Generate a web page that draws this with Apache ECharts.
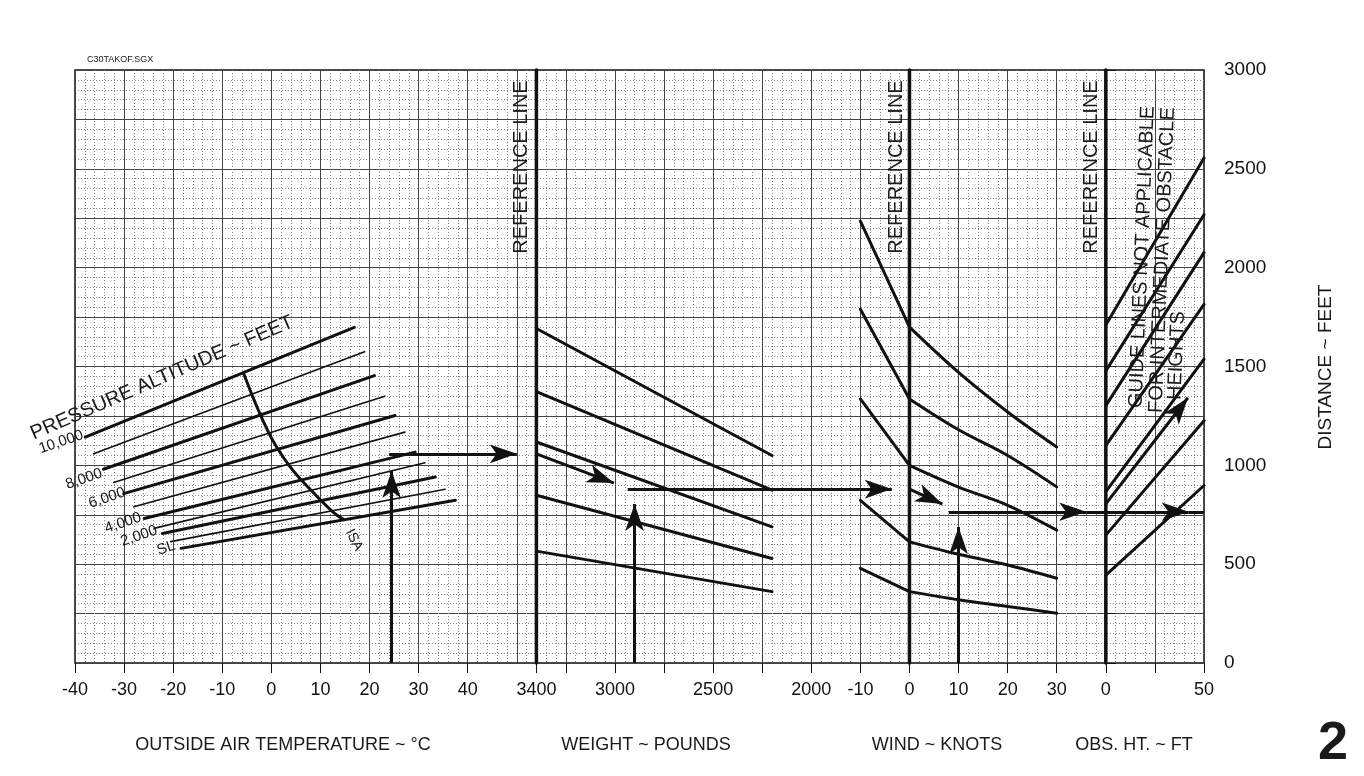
<!DOCTYPE html>
<html>
<head>
<meta charset="utf-8">
<title>Takeoff distance</title>
<script src="https://cdn.jsdelivr.net/npm/echarts@6.0.0/dist/echarts.min.js"></script>
<style>
html, body { margin: 0; padding: 0; background: #fff; }
#main { width: 1364px; height: 776px; }
</style>
</head>
<body>
<div id="main"></div>
<script>
// pressure altitude lines, [OAT degC, distance ft], 10,000 ft down to SL
var altitudeLines = [
    [[-37.9, 1143], [16.9, 1698]],
    [[-36.2, 1059], [19.0, 1575]],
    [[-34.2, 980], [21.0, 1454]],
    [[-32.1, 913], [23.1, 1350]],
    [[-30.1, 857], [25.2, 1252]],
    [[-28.0, 790], [27.2, 1168]],
    [[-25.9, 731], [29.3, 1067]],
    [[-23.9, 681], [31.3, 1013]],
    [[-22.2, 655], [33.4, 941]],
    [[-20.5, 614], [35.4, 879]],
    [[-18.4, 580], [37.5, 823]]
];
var altitudeNames = ['10,000', '8,000', '6,000', '4,000', '2,000', 'SL'];
var isaCurve = [[-5.6, 1462], [-0.6, 1168], [3.6, 1000], [8.4, 866], [12.5, 765], [14.6, 728]];

// weight lines, [pounds, ft]
var weightLines = [
    [[3400, 1692], [2200, 1050]],
    [[3400, 1373], [2200, 874]],
    [[3400, 1118], [2200, 689]],
    [[3400, 849], [2200, 529]],
    [[3400, 566], [2200, 361]]
];

// wind lines, [knots, ft]; tailwind side and headwind side
var windTailLines = [
    [[-10, 2235], [0, 1699]],
    [[-10, 1790], [0, 1336]],
    [[-10, 1336], [0, 1000]],
    [[-10, 823], [0, 613]],
    [[-10, 479], [0, 361]]
];
var windHeadLines = [
    [[0, 1699], [10, 1470], [20, 1270], [30, 1093]],
    [[0, 1336], [10, 1180], [20, 1050], [30, 891]],
    [[0, 1000], [10, 890], [20, 798], [30, 672]],
    [[0, 613], [10, 550], [20, 496], [30, 429]],
    [[0, 361], [10, 320], [20, 286], [30, 252]]
];

// obstacle height lines, [ft obstacle, ft distance]
var obstacleLines = [
    [[0, 1710], [50, 2555]],
    [[0, 1478], [50, 2268]],
    [[0, 1302], [50, 2076]],
    [[0, 1100], [50, 1814]],
    [[0, 867], [50, 1537]],
    [[0, 647], [50, 1226]],
    [[0, 445], [50, 898]]
];

// example path, [x1, y1, x2, y2, arrow]
var oatPath = [[24.5, 0, 24.5, 971, 1], [24, 1058, 50, 1058, 1]];
var weightPath = [[3400, 1058, 3005, 910, 1], [2900, 0, 2900, 804, 1], [2935, 880, 2000, 880, 0]];
var windPath = [[-20, 880, -3.6, 880, 1], [0, 880, 6.7, 804, 1], [10, 0, 10, 688, 1],
    [8, 765, 36, 765, 1], [36, 765, 40, 765, 0]];
var obsPath = [[0, 765, 42.2, 765, 1], [42.2, 765, 50, 765, 0], [0, 805, 41.8, 1342, 1]];

var X0 = 75, XR = 1204, TOP = 70, H = 593;
var DIV = (XR - X0) / 23;
var FONT = 'Liberation Sans, Arial, sans-serif';

var chart = echarts.init(document.getElementById('main'));

function grid(fromDiv, nDiv) {
    return { left: X0 + fromDiv * DIV, top: TOP, width: nDiv * DIV, height: H, outerBoundsMode: 'none' };
}
var grids = [grid(0, 23), grid(0, 9.4), grid(0, 8), grid(9.4, 5.6), grid(15, 6), grid(21, 2)];
grids[0].show = true;
grids[0].borderColor = '#111';
grids[0].borderWidth = 1.5;
grids[0].backgroundColor = 'transparent';

var majorLine = { show: true, lineStyle: { color: '#444', width: 1 } };
var minorLine = { show: true, lineStyle: { color: '#858585', width: 1, type: [1, 2] } };

function labelAxis(i, min, max, interval, fmt, inverse) {
    return {
        gridIndex: i, type: 'value', min: min, max: max, interval: interval, inverse: !!inverse,
        axisLine: { show: false },
        axisTick: { show: true, length: 10, lineStyle: { color: '#111', width: 1 } },
        axisLabel: { fontSize: 18, color: '#111', margin: 18, fontFamily: FONT,
            showMinLabel: true, showMaxLabel: true, formatter: fmt },
        splitLine: { show: false }
    };
}

var xAxes = [
    { gridIndex: 0, type: 'value', min: 0, max: 23, interval: 1,
      axisLine: { show: false }, axisTick: { show: false }, axisLabel: { show: false },
      splitLine: majorLine, minorTick: { show: false, splitNumber: 5 }, minorSplitLine: minorLine },
    { gridIndex: 1, type: 'value', min: -40, max: 54, show: false },
    labelAxis(2, -40, 40, 10, function (v) { return String(v); }),
    labelAxis(3, 2000, 3400, 250, function (v) { return (v === 3400 || v % 500 === 0) ? String(v) : ''; }, true),
    labelAxis(4, -20, 40, 10, function (v) { return (v >= -10 && v <= 30) ? String(v) : ''; }),
    labelAxis(5, 0, 50, 25, function (v) { return v === 25 ? '' : String(v); })
];

var yAxes = [
    { gridIndex: 0, type: 'value', min: 0, max: 3000, interval: 250,
      axisLine: { show: false }, axisTick: { show: false }, axisLabel: { show: false },
      splitLine: majorLine, minorTick: { show: false, splitNumber: 5 }, minorSplitLine: minorLine }
];
for (var i = 1; i < 5; i++) {
    yAxes.push({ gridIndex: i, type: 'value', min: 0, max: 3000, show: false });
}
yAxes.push({
    gridIndex: 5, type: 'value', position: 'right', min: 0, max: 3000, interval: 250,
    axisLine: { show: false },
    axisTick: { show: true, length: 10, lineStyle: { color: '#111', width: 1 } },
    axisLabel: { fontSize: 19, color: '#111', margin: 20, fontFamily: FONT,
        formatter: function (v) { return v % 500 === 0 ? String(v) : ''; } },
    splitLine: { show: false }
});

function line(idx, data, width, smooth) {
    return {
        type: 'line', xAxisIndex: idx, yAxisIndex: idx, data: data, symbol: 'none',
        smooth: smooth || false, clip: false, silent: true, z: 3,
        lineStyle: { color: '#111', width: width, cap: 'round' }
    };
}

function withPath(s, segs) {
    s.markLine = {
        silent: true, animation: false, symbolSize: [14, 27],
        label: { show: false }, emphasis: { disabled: true },
        itemStyle: { color: '#111' },
        lineStyle: { color: '#111', width: 3, type: 'solid' },
        data: segs.map(function (p) {
            return [{ coord: [p[0], p[1]], symbol: 'none' },
                    { coord: [p[2], p[3]], symbol: p[4] ? 'arrow' : 'none' }];
        })
    };
    return s;
}

var series = [];
altitudeLines.forEach(function (d, k) {
    series.push(line(1, d, k % 2 === 0 ? 3 : 1.6));
});
series.push(withPath(line(1, isaCurve, 3, 0.4), oatPath));

weightLines.forEach(function (d) { series.push(line(3, d, 3)); });
series.push(withPath(line(3, [[3400, 0], [3400, 3000]], 3.5), weightPath));

windTailLines.forEach(function (d) { series.push(line(4, d, 3)); });
windHeadLines.forEach(function (d) { series.push(line(4, d, 3, 0.35)); });
series.push(withPath(line(4, [[0, 0], [0, 3000]], 3.5), windPath));

obstacleLines.forEach(function (d) { series.push(line(5, d, 3)); });
series.push(withPath(line(5, [[0, 0], [0, 3000]], 3.5), obsPath));

function txt(text, x, y, size, rot, opts) {
    opts = opts || {};
    return {
        type: 'text', x: x, y: y, rotation: rot || 0, z: 10, silent: true,
        style: {
            text: text, fill: '#1a1a1a', fontSize: size, fontFamily: FONT,
            fontWeight: opts.weight || 'normal',
            align: opts.align || 'center', verticalAlign: 'middle'
        }
    };
}

var altLabelPos = [[61, 442], [84, 479], [107, 498], [123, 523], [139, 536], [166, 548]];
var graphics = altitudeNames.map(function (n, k) {
    return txt(n, altLabelPos[k][0], altLabelPos[k][1], 15, 0.33);
});
graphics.push(txt('PRESSURE ALTITUDE ~ FEET', 162, 378, 20, 0.41));
graphics.push(txt('ISA', 354, 540, 14, -1.1));
graphics.push(txt('REFERENCE LINE', 521, 167, 20, Math.PI / 2));
graphics.push(txt('REFERENCE LINE', 896, 167, 20, Math.PI / 2));
graphics.push(txt('REFERENCE LINE', 1091, 167, 20, Math.PI / 2));
graphics.push(txt('GUIDE LINES NOT APPLICABLE', 1136, 408, 20, 1.53, { align: 'left' }));
graphics.push(txt('FOR INTERMEDIATE OBSTACLE', 1156, 413, 20, 1.53, { align: 'left' }));
graphics.push(txt('HEIGHTS', 1175, 400, 20, 1.53, { align: 'left' }));
graphics.push(txt('OUTSIDE AIR TEMPERATURE ~ \u00b0C', 283, 745, 18));
graphics.push(txt('WEIGHT ~ POUNDS', 646, 745, 18));
graphics.push(txt('WIND ~ KNOTS', 937, 745, 18));
graphics.push(txt('OBS. HT. ~ FT', 1134, 745, 18));
graphics.push(txt('DISTANCE ~ FEET', 1326, 367, 19, Math.PI / 2));
graphics.push(txt('2', 1333, 744, 54, 0, { weight: 'bold' }));
graphics.push(txt('C30TAKOF.SGX', 87, 60, 9, 0, { align: 'left' }));

chart.setOption({
    backgroundColor: '#ffffff',
    animation: false,
    textStyle: { fontFamily: FONT },
    grid: grids,
    xAxis: xAxes,
    yAxis: yAxes,
    series: series,
    graphic: graphics
});
</script>
</body>
</html>
